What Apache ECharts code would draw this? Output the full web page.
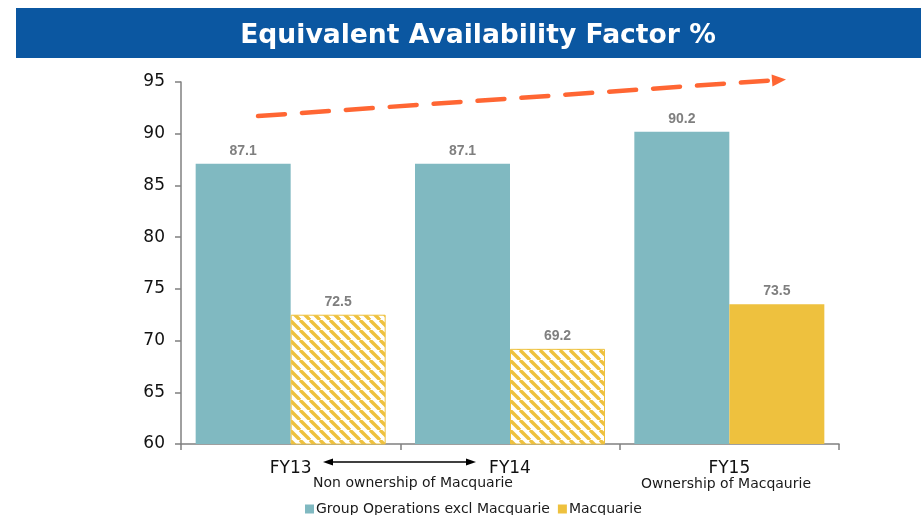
<!DOCTYPE html>
<html>
<head>
<meta charset="utf-8">
<title>Equivalent Availability Factor %</title>
<script src="https://cdn.jsdelivr.net/npm/echarts@6/dist/echarts.min.js"></script>
<style>
  html, body { margin: 0; padding: 0; background: #fff; }
  #chart { width: 921px; height: 515px; }
</style>
</head>
<body>
<div id="chart"></div>
<script>
const categories = ['FY13', 'FY14', 'FY15']
const groupOps = [87.1, 87.1, 90.2]
const macquarie = [72.5, 69.2, 73.5]
// FY13 and FY14 were before ownership -> drawn hatched
const macquarieOwned = [false, false, true]
const yTicks = { min: 60, max: 95, interval: 5 }

const TEAL = '#80b9c1'
const YELLOW = '#eec13e'

// diagonal hatch pattern for the non-owned years
const makeHatch = () => {
  const s = 10
  const c = document.createElement('canvas')
  c.width = s
  c.height = s
  const ctx = c.getContext('2d')
  ctx.fillStyle = '#fff'
  ctx.fillRect(0, 0, s, s)
  ctx.strokeStyle = YELLOW
  ctx.lineWidth = 3.4
  for (const off of [-s, 0, s]) {
    ctx.beginPath()
    ctx.moveTo(off, 0)
    ctx.lineTo(off + s, s)
    ctx.stroke()
  }
  return c
}
const hatch = makeHatch()

const chart = echarts.init(document.getElementById('chart'))

const labelStyle = {
  show: true,
  position: 'top',
  distance: 6,
  color: '#7f7f7f',
  fontFamily: 'Liberation Sans',
  fontWeight: 'bold',
  fontSize: 14
}

const option = {
  animation: false,
  grid: { left: 181, right: 82, top: 82, bottom: 71 },
  legend: {
    left: 300,
    top: 497,
    itemWidth: 9,
    itemHeight: 9,
    itemGap: 8,
    icon: 'rect',
    textStyle: { fontFamily: 'DejaVu Sans', fontSize: 14, color: '#1a1a1a', padding: [0, 0, 0, -3] },
    data: ['Group Operations excl Macquarie', 'Macquarie']
  },
  xAxis: {
    type: 'category',
    data: categories,
    axisLine: { lineStyle: { color: '#808080', width: 1.5 } },
    axisTick: { show: true, length: 6, lineStyle: { color: '#808080', width: 1.5 } },
    axisLabel: { color: '#111', fontFamily: 'DejaVu Sans', fontSize: 17, margin: 16 }
  },
  yAxis: {
    type: 'value',
    min: yTicks.min,
    max: yTicks.max,
    interval: yTicks.interval,
    splitLine: { show: false },
    axisLine: { show: true, lineStyle: { color: '#808080', width: 1.5 } },
    axisTick: { show: true, length: 6, lineStyle: { color: '#808080', width: 1.5 } },
    axisLabel: { color: '#111', fontFamily: 'DejaVu Sans', fontSize: 17, margin: 16 }
  },
  series: [
    {
      name: 'Group Operations excl Macquarie',
      type: 'bar',
      data: groupOps,
      barWidth: 95,
      barGap: '0%',
      itemStyle: { color: TEAL },
      label: labelStyle
    },
    {
      name: 'Macquarie',
      type: 'bar',
      barWidth: 95,
      data: macquarie.map((v, i) => macquarieOwned[i]
        ? { value: v }
        : { value: v, itemStyle: { color: { image: hatch, repeat: 'repeat' }, borderColor: YELLOW, borderWidth: 1 } }),
      itemStyle: { color: YELLOW },
      label: labelStyle
    }
  ],
  graphic: [
    // title banner
    { type: 'rect', left: 16, top: 8, shape: { width: 905, height: 50 }, style: { fill: '#0b57a1' }, z: 10 },
    {
      type: 'text', x: 478, y: 36, z: 11,
      style: { text: 'Equivalent Availability Factor %', fill: '#fff', font: 'bold 26.6px "DejaVu Sans"', align: 'center', verticalAlign: 'middle' }
    },
    // rising trend arrow
    {
      type: 'line', z: 12,
      shape: { x1: 258, y1: 116, x2: 772, y2: 80.4 },
      style: { stroke: '#ff6633', lineWidth: 4.5, lineDash: [27, 17], lineCap: 'round' }
    },
    {
      type: 'polygon', z: 12,
      shape: { points: [[786, 79.4], [771.6, 74.4], [772.4, 86.4]] },
      style: { fill: '#ff6633' }
    },
    // double-headed arrow between FY13 and FY14
    {
      type: 'line', z: 12,
      shape: { x1: 330, y1: 462, x2: 468, y2: 462 },
      style: { stroke: '#000', lineWidth: 1.3 }
    },
    {
      type: 'polygon', z: 12,
      shape: { points: [[323, 462], [333, 458.5], [333, 465.5]] },
      style: { fill: '#000' }
    },
    {
      type: 'polygon', z: 12,
      shape: { points: [[476, 462], [466, 458.5], [466, 465.5]] },
      style: { fill: '#000' }
    },
    {
      type: 'text', z: 12, x: 413, y: 483,
      style: { text: 'Non ownership of Macquarie', fill: '#1a1a1a', font: '14px "DejaVu Sans"', align: 'center', verticalAlign: 'middle' }
    },
    {
      type: 'text', z: 12, x: 726, y: 484,
      style: { text: 'Ownership of Macqaurie', fill: '#1a1a1a', font: '14px "DejaVu Sans"', align: 'center', verticalAlign: 'middle' }
    }
  ]
}

chart.setOption(option)
</script>
</body>
</html>
